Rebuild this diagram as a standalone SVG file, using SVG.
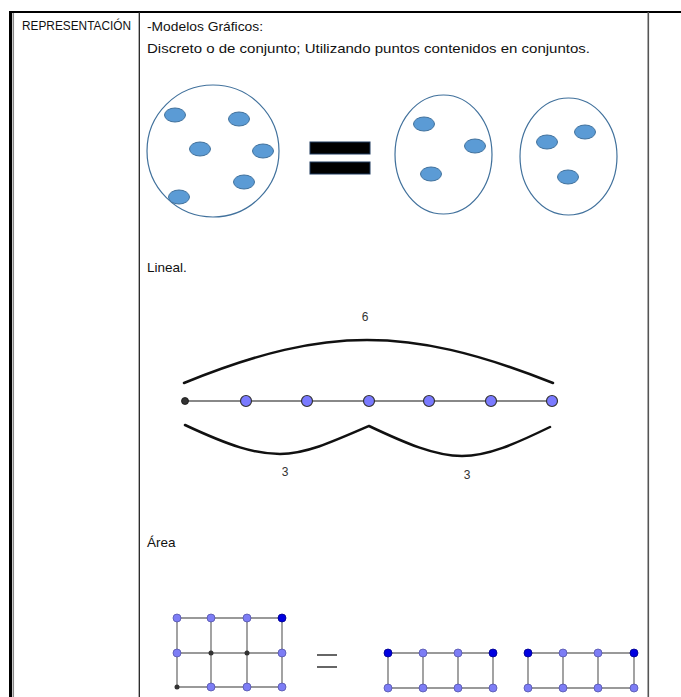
<svg xmlns="http://www.w3.org/2000/svg" width="681" height="697" viewBox="0 0 681 697">
<style>
.t{font-family:"Liberation Sans",Arial,sans-serif;font-size:13.5px;fill:#111}
.h{font-family:"Liberation Sans",Arial,sans-serif;font-size:12.5px;fill:#111}
.n{font-family:"Liberation Sans",Arial,sans-serif;font-size:12px;fill:#333;text-anchor:middle}
.set{fill:none;stroke:#41719c;stroke-width:1.2}
.dot{fill:#5b9bd5;stroke:#41719c;stroke-width:1}
.brace{fill:none;stroke:#111;stroke-width:2.5;stroke-linecap:round;stroke-linejoin:miter}
.seg{stroke:#888;stroke-width:1.8}
.pt{fill:#7a7aff;stroke:#333;stroke-width:1.2}
.gl{stroke:#999;stroke-width:1.8;fill:none}
.gp{fill:#7d7df5;stroke:#5555aa;stroke-width:0.8}
.gd{fill:#0000e0;stroke:#00008a;stroke-width:0.8}
.gs{fill:#333}
</style>
<rect width="681" height="697" fill="#fff"/>
<g id="table">
<line x1="9" y1="12" x2="681" y2="12" stroke="#000" stroke-width="2.2"/>
<line x1="10.5" y1="11" x2="10.5" y2="697" stroke="#000" stroke-width="3"/>
<line x1="13.3" y1="13" x2="13.3" y2="697" stroke="#888" stroke-width="1.5"/>
<line x1="139.3" y1="12" x2="139.3" y2="697" stroke="#222" stroke-width="1.3"/>
<line x1="648.3" y1="12" x2="648.3" y2="697" stroke="#555" stroke-width="1.6"/>
</g>
<g id="labels">
<text class="h" x="22" y="30" textLength="109" lengthAdjust="spacingAndGlyphs">REPRESENTACIÓN</text>
<text class="t" x="147" y="31" textLength="116" lengthAdjust="spacingAndGlyphs">-Modelos Gráficos:</text>
<text class="t" x="147" y="53" textLength="443" lengthAdjust="spacingAndGlyphs">Discreto o de conjunto; Utilizando puntos contenidos en conjuntos.</text>
<text class="t" x="147" y="272">Lineal.</text>
<text class="t" x="147" y="547">Área</text>
</g>
<g id="set-big">
<circle class="set" cx="213" cy="151" r="66"/>
<ellipse class="dot" cx="175" cy="115" rx="10.5" ry="7"/>
<ellipse class="dot" cx="239" cy="119" rx="10.5" ry="7"/>
<ellipse class="dot" cx="200" cy="149" rx="10.5" ry="7"/>
<ellipse class="dot" cx="263" cy="151" rx="10.5" ry="7"/>
<ellipse class="dot" cx="244" cy="182" rx="10.5" ry="7"/>
<ellipse class="dot" cx="179" cy="197" rx="10.5" ry="7"/>
</g>
<g id="equals-big">
<rect x="310" y="142" width="60" height="12" fill="#000" stroke="#1f3a5f" stroke-width="1"/>
<rect x="310" y="162" width="60" height="12" fill="#000" stroke="#1f3a5f" stroke-width="1"/>
</g>
<g id="set-a">
<ellipse class="set" cx="443.5" cy="154.5" rx="48.5" ry="59.5"/>
<ellipse class="dot" cx="424" cy="124" rx="10.5" ry="7"/>
<ellipse class="dot" cx="475" cy="146" rx="10.5" ry="7"/>
<ellipse class="dot" cx="431" cy="174" rx="10.5" ry="7"/>
</g>
<g id="set-b">
<ellipse class="set" cx="568.5" cy="156.5" rx="48.5" ry="58.5"/>
<ellipse class="dot" cx="547" cy="142" rx="10.5" ry="7"/>
<ellipse class="dot" cx="585" cy="132" rx="10.5" ry="7"/>
<ellipse class="dot" cx="568" cy="177" rx="10.5" ry="7"/>
</g>
<g id="linear">
<path class="brace" d="M184,383 C260,352 315,340 367,340 C420,340 475,352 553,383"/>
<text class="n" x="365" y="321">6</text>
<line class="seg" x1="185" y1="401" x2="552" y2="401"/>
<circle cx="185" cy="401" r="3.5" fill="#333" stroke="#111" stroke-width="0.8"/>
<circle class="pt" cx="246" cy="401" r="5.5"/>
<circle class="pt" cx="307" cy="401" r="5.5"/>
<circle class="pt" cx="369" cy="401" r="5.5"/>
<circle class="pt" cx="429" cy="401" r="5.5"/>
<circle class="pt" cx="491" cy="401" r="5.5"/>
<circle class="pt" cx="552" cy="401" r="5.5"/>
<path class="brace" d="M185,425 C230,446 255,454 280,454 C305,454 330,443 369,426 C405,443 435,456 462,456 C488,456 515,444 550,427"/>
<text class="n" x="285" y="476">3</text>
<text class="n" x="467" y="479">3</text>
</g>
<g id="area-grid">
<path class="gl" d="M177,618 H282 M177,653 H282 M177,687 H282 M177,618 V687 M211,618 V687 M247,618 V687 M282,618 V687"/>
<circle class="gp" cx="177" cy="618" r="4"/>
<circle class="gp" cx="211" cy="618" r="4"/>
<circle class="gp" cx="247" cy="618" r="4"/>
<circle class="gd" cx="282" cy="618" r="4"/>
<circle class="gp" cx="177" cy="653" r="4"/>
<circle class="gs" cx="211" cy="653" r="2.5"/>
<circle class="gs" cx="247" cy="653" r="2.5"/>
<circle class="gp" cx="282" cy="653" r="4"/>
<circle class="gs" cx="177" cy="687" r="2.5"/>
<circle class="gp" cx="211" cy="687" r="4"/>
<circle class="gp" cx="247" cy="687" r="4"/>
<circle class="gp" cx="282" cy="687" r="4"/>
</g>
<g id="equals-small">
<line x1="317" y1="655" x2="337" y2="655" stroke="#555" stroke-width="1.8"/>
<line x1="317" y1="667" x2="337" y2="667" stroke="#555" stroke-width="1.8"/>
</g>
<g id="area-a">
<path class="gl" d="M388,653 H493 M388,688 H493 M388,653 V688 M423,653 V688 M458,653 V688 M493,653 V688"/>
<circle class="gd" cx="388" cy="653" r="4"/>
<circle class="gp" cx="423" cy="653" r="4"/>
<circle class="gp" cx="458" cy="653" r="4"/>
<circle class="gd" cx="493" cy="653" r="4"/>
<circle class="gp" cx="388" cy="688" r="4"/>
<circle class="gp" cx="423" cy="688" r="4"/>
<circle class="gp" cx="458" cy="688" r="4"/>
<circle class="gp" cx="493" cy="688" r="4"/>
</g>
<g id="area-b">
<path class="gl" d="M528,653 H634 M528,688 H634 M528,653 V688 M563,653 V688 M598,653 V688 M634,653 V688"/>
<circle class="gd" cx="528" cy="653" r="4"/>
<circle class="gp" cx="563" cy="653" r="4"/>
<circle class="gp" cx="598" cy="653" r="4"/>
<circle class="gd" cx="634" cy="653" r="4"/>
<circle class="gp" cx="528" cy="688" r="4"/>
<circle class="gp" cx="563" cy="688" r="4"/>
<circle class="gp" cx="598" cy="688" r="4"/>
<circle class="gp" cx="634" cy="688" r="4"/>
</g>
</svg>
